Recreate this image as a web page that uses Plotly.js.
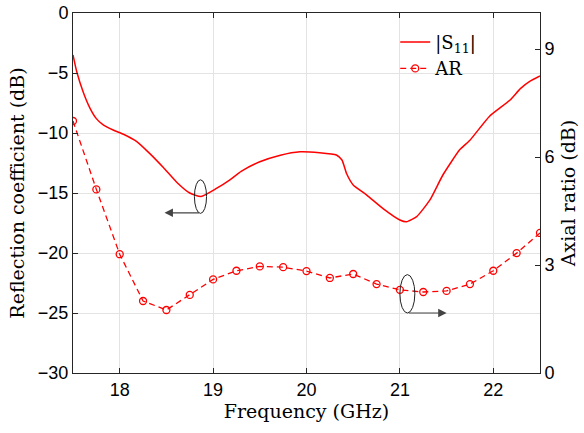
<!DOCTYPE html>
<html>
<head>
<meta charset="utf-8">
<script src="https://cdn.plot.ly/plotly-3.0.1.min.js"></script>
<style>html,body{margin:0;padding:0;background:#fff;}#chart{width:584px;height:433px;}</style>
</head>
<body>
<div id="chart"></div>
<script>
// |S11| (dB) vs frequency (GHz)
const s11Freq = [17.5, 17.54, 17.61, 17.68, 17.75, 17.82, 17.93, 18.04, 18.18, 18.32, 18.47, 18.61, 18.75, 18.87, 19.04, 19.18, 19.3, 19.5, 19.72, 19.93, 20.14, 20.32, 20.38, 20.43, 20.5, 20.645, 20.82, 21.0, 21.07, 21.18, 21.32, 21.46, 21.64, 21.75, 21.96, 22.18, 22.29, 22.39, 22.5];
const s11Val  = [-3.5, -4.9, -6.6, -7.9, -8.8, -9.3, -9.75, -10.1, -10.7, -11.7, -12.9, -14.1, -15.0, -15.3, -14.6, -13.9, -13.2, -12.4, -11.85, -11.56, -11.64, -11.83, -12.25, -13.4, -14.33, -15.17, -16.3, -17.25, -17.4, -16.97, -15.6, -13.5, -11.4, -10.6, -8.6, -7.25, -6.3, -5.7, -5.25];
// Axial ratio (dB)
const arFreq = [17.5, 17.75, 18.0, 18.25, 18.5, 18.75, 19.0, 19.25, 19.5, 19.75, 20.0, 20.25, 20.5, 20.75, 21.0, 21.25, 21.5, 21.75, 22.0, 22.25, 22.5];
const arVal  = [7.0, 5.1, 3.3, 2.0, 1.75, 2.17, 2.6, 2.84, 2.96, 2.94, 2.83, 2.64, 2.75, 2.47, 2.31, 2.25, 2.28, 2.47, 2.84, 3.33, 3.89];
const xTicks = [18, 19, 20, 21, 22];
const yTicks = [0, -5, -10, -15, -20, -25, -30];
const y2Ticks = [0, 3, 6, 9];

const axisColor = '#262626';
const gridColor = '#e3e3e3';
const tickFont = {family: 'Liberation Sans, Arial, sans-serif', size: 18, color: '#000'};
const titleFont = {family: 'DejaVu Serif, serif', size: 19, color: '#000'};

const traces = [
  {x: s11Freq, y: s11Val, type: 'scatter', mode: 'lines', name: '|S<sub>11</sub>|',
   line: {color: '#ff0000', width: 1.5, shape: 'spline', smoothing: 0.5}},
  {x: arFreq, y: arVal, type: 'scatter', mode: 'lines+markers', name: 'AR', yaxis: 'y2',
   line: {color: '#ff0000', width: 1.3, dash: '6px,4px'},
   marker: {symbol: 'circle-open', size: 7, color: '#ff0000', line: {width: 1.3, color: '#ff0000'}}}
];

const layout = {
  width: 584, height: 433,
  margin: {l: 73, r: 44, t: 13, b: 60},
  paper_bgcolor: '#fff', plot_bgcolor: '#fff',
  showlegend: true,
  legend: {x: 0.69, y: 0.97, xanchor: 'left', yanchor: 'top', bgcolor: 'rgba(255,255,255,0)',
           font: {family: 'DejaVu Serif, serif', size: 18, color: '#000'},
           tracegroupgap: 0, itemwidth: 30},
  xaxis: {range: [17.5, 22.5], tickvals: xTicks, ticks: 'inside', ticklen: 5, tickcolor: axisColor,
          showline: true, linecolor: axisColor, linewidth: 1, mirror: 'ticks',
          showgrid: true, gridcolor: gridColor, zeroline: false, tickfont: tickFont,
          title: {text: 'Frequency (GHz)', font: titleFont, standoff: 4}},
  yaxis: {range: [-30, 0], tickvals: yTicks, ticks: 'inside', ticklen: 5, tickcolor: axisColor,
          showline: true, linecolor: axisColor, linewidth: 1,
          showgrid: true, gridcolor: gridColor, zeroline: false, tickfont: tickFont,
          title: {text: 'Reflection coefficient (dB)', font: titleFont, standoff: 8}},
  yaxis2: {range: [0, 10], tickvals: y2Ticks, overlaying: 'y', side: 'right', ticks: 'inside', ticklen: 5,
           tickcolor: axisColor, showline: true, linecolor: axisColor, linewidth: 1,
           showgrid: false, zeroline: false, tickfont: tickFont,
           title: {text: 'Axial ratio (dB)', font: titleFont, standoff: 8}},
  shapes: [
    {type: 'circle', xref: 'x', yref: 'y', x0: 18.80, x1: 18.93, y0: -13.9, y1: -16.7,
     line: {color: '#222', width: 1}},
    {type: 'circle', xref: 'x', yref: 'y', x0: 21.00, x1: 21.16, y0: -21.8, y1: -25.0,
     line: {color: '#222', width: 1}}
  ],
  annotations: [
    {xref: 'x', yref: 'y', axref: 'x', ayref: 'y', x: 18.48, y: -16.65, ax: 18.865, ay: -16.65,
     text: '', showarrow: true, arrowhead: 2, arrowsize: 1.4, arrowwidth: 1.2, arrowcolor: '#444'},
    {xref: 'x', yref: 'y', axref: 'x', ayref: 'y', x: 21.5, y: -25.0, ax: 21.08, ay: -25.0,
     text: '', showarrow: true, arrowhead: 2, arrowsize: 1.4, arrowwidth: 1.2, arrowcolor: '#444'}
  ]
};

Plotly.newPlot('chart', traces, layout, {displayModeBar: false, staticPlot: true});
</script>
</body>
</html>
